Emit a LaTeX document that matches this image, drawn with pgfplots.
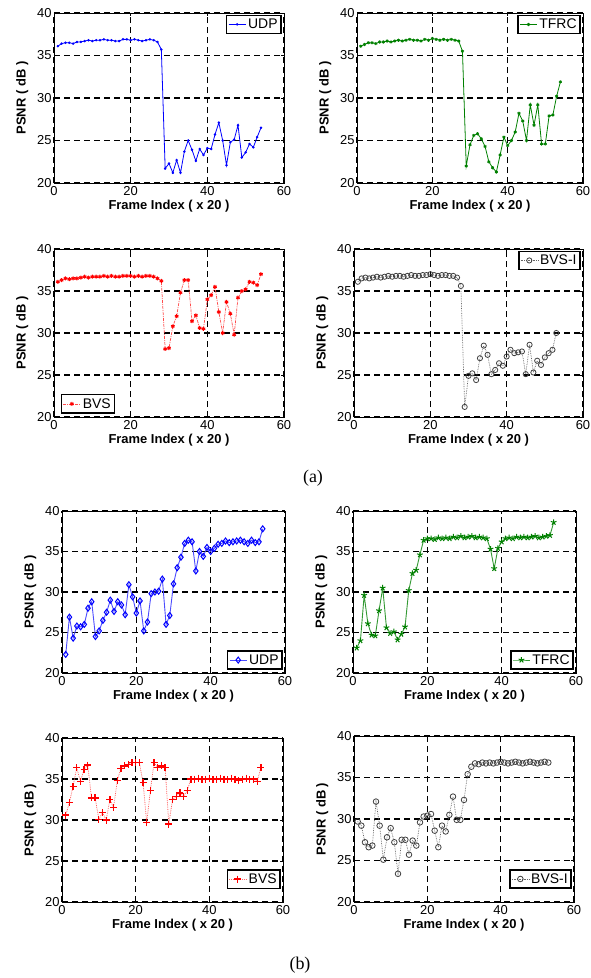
\documentclass[border=0pt]{standalone}
\usepackage{pgfplots}
\pgfplotsset{compat=1.18}
\usepackage{fontspec}
\setmainfont{Liberation Sans}
\newfontfamily\capfont{Liberation Serif}

\pgfplotsset{
  psnr/.style={
    scale only axis, anchor=south west,
    xmin=0, xmax=60, ymin=20, ymax=40,
    xtick={0,20,40,60}, ytick={20,25,30,35,40},
    grid=major,
    grid style={black, line width=1.2bp, dash pattern=on 6bp off 4bp},
    tick align=inside, major tick length=3bp,
    axis line style={line width=0.7bp},
    every tick/.style={black, line width=0.7bp},
    /pgf/number format/assume math mode=true,
    tick label style={font=\fontsize{13}{13}\selectfont},
    yticklabel style={xshift=1bp},
    label style={font=\fontsize{13}{13}\selectfont\bfseries},
    xlabel={Frame Index ( x 20 )}, ylabel={PSNR ( dB )},
    xlabel style={yshift=2bp}, ylabel style={yshift=2bp},
    legend style={font=\fontsize{14}{14}\selectfont, draw=black,
      line width=1.3bp, fill=white, inner sep=1.5bp, row sep=-1bp},
    legend cell align=left,
  },
  ne/.style={legend pos=north east, legend style={at={(0.99,0.99)}}},
  sw/.style={legend style={at={(0.03,0.02)}, anchor=south west}},
  se/.style={legend style={at={(0.99,0.02)}, anchor=south east}},
}

\begin{document}
\begin{tikzpicture}
\useasboundingbox (0,0) rectangle (591bp,-978bp);

% ---------- (a) ----------
\begin{axis}[psnr, ne, at={(54bp,-183bp)}, width=230bp, height=170bp]
\addplot[blue, line width=0.8bp, mark=*, mark size=0.8bp] coordinates {
(1,36.1)(2,36.4)(3,36.5)(4,36.5)(5,36.4)(6,36.6)(7,36.6)(8,36.7)(9,36.8)(10,36.7)
(11,36.8)(12,36.8)(13,36.9)(14,36.8)(15,36.8)(16,36.7)(17,36.7)(18,36.9)(19,36.9)(20,36.8)
(21,36.9)(22,36.8)(23,36.7)(24,36.8)(25,36.9)(26,36.8)(27,36.6)(28,35.7)
(29,21.7)(30,22.3)(31,21.2)(32,22.7)(33,21.2)(34,23.7)(35,25.0)(36,23.9)(37,22.6)(38,24.0)
(39,23.3)(40,24.1)(41,24.0)(42,25.7)(43,27.1)(44,25.0)(45,22.1)(46,24.8)(47,25.1)(48,26.8)
(49,23.0)(50,23.6)(51,24.6)(52,24.2)(53,25.4)(54,26.5)};
\addlegendentry{UDP}
\end{axis}

\begin{axis}[psnr, ne, at={(357bp,-183bp)}, width=226bp, height=170bp]
\addplot[green!50!black, line width=0.8bp, mark=asterisk, mark size=1.6bp] coordinates {
(1,36.1)(2,36.3)(3,36.5)(4,36.5)(5,36.4)(6,36.6)(7,36.6)(8,36.7)(9,36.6)(10,36.7)
(11,36.8)(12,36.7)(13,36.8)(14,36.9)(15,36.8)(16,36.8)(17,36.7)(18,36.9)(19,36.8)(20,37.0)
(21,36.9)(22,36.8)(23,36.9)(24,36.8)(25,36.9)(26,36.8)(27,36.7)(28,35.5)
(29,22.0)(30,24.5)(31,25.6)(32,25.8)(33,25.2)(34,24.3)(35,22.5)(36,21.8)(37,21.3)(38,23.3)
(39,25.4)(40,24.4)(41,25.0)(42,26.0)(43,28.2)(44,27.3)(45,25.0)(46,29.2)(47,26.8)(48,29.2)
(49,24.6)(50,24.6)(51,27.9)(52,28.0)(53,30.2)(54,31.9)};
\addlegendentry{TFRC}
\end{axis}

\begin{axis}[psnr, sw, at={(54bp,-417bp)}, width=230bp, height=168bp]
\addplot[red!70, line width=0.7bp, dash pattern=on 3bp off 1bp on 1bp off 1bp,
  mark=asterisk, mark size=2bp, mark options={red, solid, line width=1bp}] coordinates {
(1,36.1)(2,36.3)(3,36.5)(4,36.4)(5,36.5)(6,36.5)(7,36.6)(8,36.7)(9,36.6)(10,36.7)
(11,36.7)(12,36.7)(13,36.8)(14,36.7)(15,36.8)(16,36.7)(17,36.7)(18,36.8)(19,36.8)(20,36.8)
(21,36.7)(22,36.8)(23,36.7)(24,36.8)(25,36.8)(26,36.7)(27,36.5)(28,36.2)
(29,28.1)(30,28.2)(31,30.8)(32,32.0)(33,34.8)(34,36.3)(35,36.3)(36,31.4)(37,32.1)(38,30.6)
(39,30.5)(40,34.0)(41,34.5)(42,35.5)(43,32.5)(44,30.0)(45,33.7)(46,32.3)(47,29.8)(48,34.2)
(49,35.0)(50,35.2)(51,36.1)(52,36.0)(53,35.7)(54,37.0)};
\addlegendentry{BVS}
\end{axis}

\begin{axis}[psnr, ne, at={(354bp,-417bp)}, width=229bp, height=168bp]
\addplot[black!60, line width=0.7bp, densely dotted,
  mark=o, mark size=2.6bp, mark options={black!75, solid, line width=0.8bp}] coordinates {
(1,36.1)(2,36.5)(3,36.6)(4,36.5)(5,36.6)(6,36.7)(7,36.6)(8,36.7)(9,36.8)(10,36.7)
(11,36.8)(12,36.8)(13,36.7)(14,36.8)(15,36.9)(16,36.8)(17,36.8)(18,36.9)(19,36.9)(20,37.0)
(21,36.9)(22,36.8)(23,36.9)(24,36.9)(25,36.8)(26,36.8)(27,36.6)(28,35.6)
(29,21.2)(30,24.9)(31,25.2)(32,24.4)(33,27.0)(34,28.5)(35,27.4)(36,25.1)(37,25.6)(38,26.4)
(39,26.1)(40,27.2)(41,28.0)(42,27.6)(43,27.7)(44,27.8)(45,25.1)(46,28.6)(47,25.3)(48,26.7)
(49,26.2)(50,27.1)(51,27.6)(52,28.0)(53,30.0)};
\addlegendentry{BVS-I}
\end{axis}

\node[font=\capfont\fontsize{18}{18}\selectfont] at (313bp,-478bp) {(a)};

% ---------- (b) ----------
\begin{axis}[psnr, se, at={(62bp,-673bp)}, width=223bp, height=162bp]
\addplot[blue!70, line width=0.9bp, mark=diamond, mark size=3bp,
  mark options={blue, line width=1bp}] coordinates {
(1,22.3)(2,26.9)(3,24.3)(4,25.8)(5,25.7)(6,26.0)(7,28.0)(8,28.8)(9,24.5)(10,25.2)
(11,26.5)(12,27.5)(13,29.0)(14,27.6)(15,28.8)(16,28.4)(17,27.2)(18,30.9)(19,29.4)(20,27.4)
(21,28.9)(22,25.2)(23,26.3)(24,29.8)(25,30.0)(26,30.1)(27,31.6)(28,26.0)(29,27.1)(30,31.0)
(31,33.0)(32,34.3)(33,36.0)(34,36.4)(35,36.2)(36,32.6)(37,35.0)(38,34.4)(39,35.5)(40,35.0)
(41,35.4)(42,35.9)(43,36.0)(44,36.3)(45,36.1)(46,36.2)(47,36.3)(48,36.4)(49,36.2)(50,36.0)
(51,36.4)(52,36.1)(53,36.2)(54,37.8)};
\addlegendentry{UDP}
\end{axis}

\begin{axis}[psnr, se, at={(353bp,-673bp)}, width=223bp, height=162bp]
\addplot[green!50!black!80, line width=0.9bp, mark=star, mark size=3bp,
  mark options={green!50!black, line width=1bp}] coordinates {
(1,23.1)(2,24.0)(3,29.6)(4,26.1)(5,24.7)(6,24.6)(7,27.7)(8,30.5)(9,25.6)(10,24.9)
(11,25.1)(12,24.1)(13,24.8)(14,25.7)(15,30.2)(16,32.3)(17,32.7)(18,34.6)(19,36.4)(20,36.6)
(21,36.6)(22,36.5)(23,36.7)(24,36.6)(25,36.7)(26,36.6)(27,36.8)(28,36.7)(29,36.9)(30,36.7)
(31,36.8)(32,36.9)(33,36.7)(34,36.8)(35,36.7)(36,36.6)(37,35.3)(38,32.9)(39,35.4)(40,36.2)
(41,36.6)(42,36.7)(43,36.6)(44,36.8)(45,36.7)(46,36.8)(47,36.7)(48,36.8)(49,36.9)(50,36.7)
(51,36.8)(52,36.9)(53,37.0)(54,38.6)};
\addlegendentry{TFRC}
\end{axis}

\begin{axis}[psnr, se, legend style={at={(0.99,0.08)}}, at={(62bp,-902bp)}, width=221bp, height=164bp]
\addplot[red!60, line width=0.8bp, densely dotted, mark=+, mark size=3.5bp,
  mark options={red, solid, line width=1.3bp}] coordinates {
(1,30.6)(2,32.1)(3,34.1)(4,36.4)(5,34.7)(6,36.2)(7,36.7)(8,32.7)(9,32.7)(10,30.1)
(11,30.9)(12,30.0)(13,32.5)(14,31.5)(15,34.8)(16,36.3)(17,36.6)(18,36.8)(19,37.0)(20,37.0)
(21,37.0)(22,34.6)(23,29.7)(24,33.6)(25,37.0)(26,36.4)(27,36.6)(28,36.4)(29,29.5)(30,32.5)
(31,32.9)(32,33.3)(33,32.9)(34,33.6)(35,35.0)(36,35.0)(37,35.1)(38,34.9)(39,35.0)(40,35.1)
(41,34.9)(42,35.0)(43,35.1)(44,35.0)(45,34.9)(46,35.1)(47,35.0)(48,34.8)(49,35.0)(50,35.1)
(51,34.9)(52,35.0)(53,34.7)(54,36.4)};
\addlegendentry{BVS}
\end{axis}

\begin{axis}[psnr, se, legend style={at={(0.99,0.08)}}, at={(354bp,-902bp)}, width=220bp, height=166bp]
\addplot[black!60, line width=0.7bp, densely dotted,
  mark=o, mark size=2.8bp, mark options={black!75, solid, line width=0.8bp}] coordinates {
(1,29.7)(2,29.2)(3,27.2)(4,26.6)(5,26.8)(6,32.1)(7,29.2)(8,25.1)(9,27.8)(10,28.9)
(11,27.2)(12,23.4)(13,27.5)(14,27.5)(15,25.7)(16,27.4)(17,26.8)(18,29.6)(19,30.3)(20,30.4)
(21,30.6)(22,28.6)(23,26.6)(24,29.2)(25,28.5)(26,30.5)(27,32.7)(28,29.9)(29,29.9)(30,32.3)
(31,35.4)(32,36.3)(33,36.7)(34,36.6)(35,36.8)(36,36.7)(37,36.8)(38,36.7)(39,36.8)(40,36.9)
(41,36.8)(42,36.7)(43,36.8)(44,36.9)(45,36.8)(46,36.7)(47,36.8)(48,36.9)(49,36.8)(50,36.7)
(51,36.8)(52,36.9)(53,36.8)};
\addlegendentry{BVS-I}
\end{axis}

\node[font=\capfont\fontsize{18}{18}\selectfont] at (300bp,-965bp) {(b)};
\end{tikzpicture}
\end{document}
